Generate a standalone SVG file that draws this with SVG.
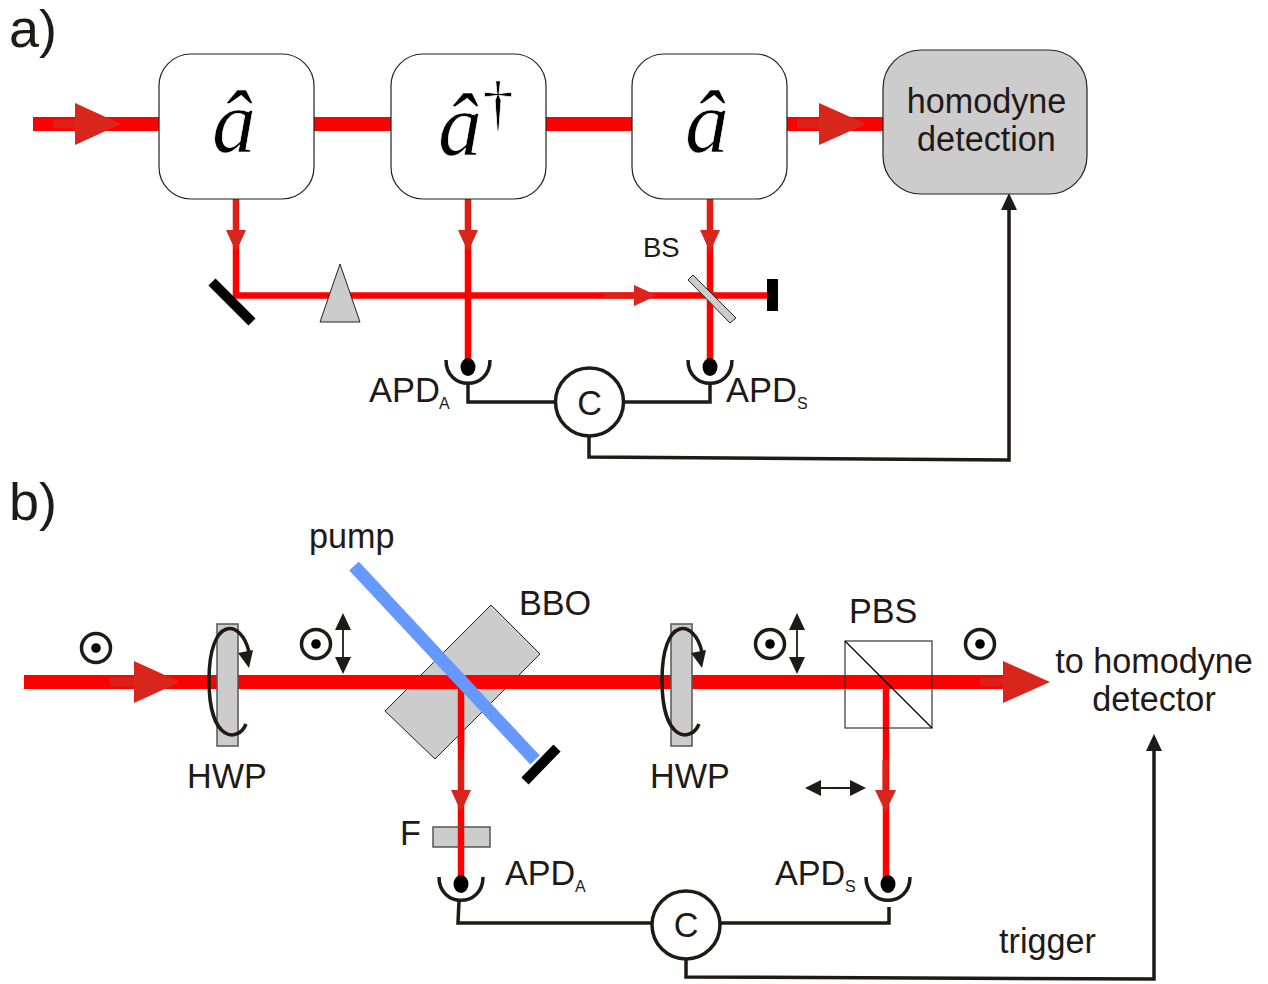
<svg xmlns="http://www.w3.org/2000/svg" width="1268" height="984" viewBox="0 0 1268 984">
<style>
text{font-family:"Liberation Sans",Arial,sans-serif;fill:#1f1a17;font-size:34.200px}
.m{font-family:"Liberation Serif","Times New Roman",serif;font-style:italic;font-size:88px;fill:#000;text-anchor:middle;stroke:#fff;stroke-width:.7}
.big{font-size:51px}.sub{font-size:16px}.mid{text-anchor:middle}
.beam{stroke:#f00;fill:none}.b14{stroke-width:14}.b6{stroke-width:6.5}
.ah{fill:#d9261c}.st{stroke:#dc2018;fill:none}
.w{stroke:#1f1a17;stroke-width:3.5;fill:none}
.box{fill:#fff;stroke:#222;stroke-width:1.2}
.g{fill:#ccc;stroke:#222;stroke-width:1}
.gw{fill:#ccc;stroke:#555;stroke-width:1.5}
.k{fill:#1f1a17}
.blk{stroke:#000;stroke-width:10;fill:none}
.cir{fill:#fff;stroke:#1f1a17;stroke-width:3.5}
.pol{fill:#fff;stroke:#1f1a17;stroke-width:3.5}
</style>
<defs>
<g id="cup"><path class="w" d="M-22 -7C-22 24 22 24 22 -7"/><ellipse cx="0" cy="0" rx="7.5" ry="9" fill="#000"/></g>
<g id="dot"><circle class="pol" r="14.5"/><circle r="4.8" fill="#000"/></g>
<g id="vdbl"><path class="k" d="M0 0L8 17H-8ZM0 61L8 44H-8Z"/><path d="M0 10V51" stroke="#1f1a17" stroke-width="1.8"/></g>
<g id="rot"><path class="w" d="M19 44C12 62 -18 64 -18 0C-18 -64 14 -62 22 -28"/><path class="k" d="M11 -27L26 -30L22 -12Z"/></g>
</defs>

<g id="connectors">
<path class="beam b14" d="M33 124H159M314 124H391M546 124H632M787 124H883"/>
<path class="beam b6" d="M236 199V295.500H772M468 199V367M710 199V367"/>
<path class="st" stroke-width="9" d="M53 124H80M797 124H825"/>
<path class="ah" d="M75 103L121 124L75 145ZM819 103L866 124L819 145Z"/>
<path class="st" stroke-width="6" d="M236 199V232M468 199V232M710 199V232M604 295.500H640"/>
<path class="ah" d="M226 230H246L236 252ZM458 230H478L468 252ZM700 230H720L710 252ZM634 285V306L657 295.500Z"/>
<path class="w" d="M468 384V402H555M625 402H710V384M589 436V457L1009 460V205"/>
<path class="k" d="M1009 193L1017 210H1001Z"/>

<path id="beam-b" class="beam b14" d="M24 682H1010"/>
<path class="beam b6" d="M461 682V880M886 682V880"/>
<path class="st" stroke-width="9" d="M110 682H140M980 682H1010"/>
<path class="ah" d="M134 661L180 682L134 703ZM1003 661L1050 682L1003 703Z"/>
<path class="st" stroke-width="6" d="M461 760V795M885.500 760V795"/>
<path class="ah" d="M451 790H471L461 812ZM875 790H896L885.500 812Z"/>
<path class="w" d="M459 901L458 923H652M720 923H889V907M686 959V977L1154 979V750"/>
<path class="k" d="M1154 734L1162 751H1146Z"/>
</g>

<text class="big" x="9" y="47" textLength="48" lengthAdjust="spacingAndGlyphs">a)</text>
<g id="op1"><rect class="box" x="159" y="54" width="155" height="145" rx="32"/><text class="m" x="234" y="152">â</text></g>
<g id="op2"><rect class="box" x="391" y="54" width="155" height="145" rx="32"/><text class="m" x="460" y="155">â</text><text class="m" x="498" y="124" style="font-style:normal;font-size:62px">†</text></g>
<g id="op3"><rect class="box" x="632" y="54" width="155" height="145" rx="32"/><text class="m" x="707" y="152">â</text></g>
<g id="homodyne"><rect x="883" y="50" width="204" height="144" rx="38" fill="#ccc" stroke="#222" stroke-width="1.2"/><text class="mid" x="986.500" y="113">homodyne</text><text class="mid" x="986.500" y="151">detection</text></g>
<g id="mirror-a"><path class="blk" d="M212 282L252 322"/></g>
<g id="prism"><path class="g" d="M340 264L360 322H320Z"/></g>
<g id="bs"><path class="g" d="M693 275L736 318L730 323L688 280Z"/><text x="643" y="257" style="font-size:27.500px">BS</text></g>
<g id="stop-a"><rect x="767" y="279" width="11" height="32" fill="#000"/></g>
<g id="apda-a"><use href="#cup" x="468" y="367"/><text x="369" y="402" style="font-size:34.500px">APD</text><text class="sub" x="439" y="409">A</text></g>
<g id="apds-a"><use href="#cup" x="710" y="367"/><text x="726" y="402" style="font-size:34.500px">APD</text><text class="sub" x="797" y="409">S</text></g>
<g id="c-a"><circle class="cir" cx="589.500" cy="402" r="34"/><text class="mid" x="589.500" y="415">C</text></g>

<text class="big" x="9" y="520" textLength="48" lengthAdjust="spacingAndGlyphs">b)</text>
<g id="dot1"><use href="#dot" x="96" y="648"/></g>
<g id="hwp1"><rect class="gw" x="217" y="624" width="21" height="122"/><use href="#rot" x="227" y="680"/><text x="187" y="788">HWP</text></g>
<g id="pol1"><use href="#dot" x="316" y="644"/><use href="#vdbl" x="343" y="613"/></g>
<g id="bbo"><path class="g" d="M491 605L540 654L435 759L385 711Z"/><text x="519" y="615">BBO</text></g>
<path id="beam-over-bbo" class="beam b14" d="M392 682H530"/>
<path id="beam-down" class="beam b6" d="M461 682V745"/>
<g id="pump"><path d="M354 566L535 760" stroke="#69f" stroke-width="13" fill="none"/><text x="309" y="548">pump</text></g>
<g id="stop-b"><path class="blk" d="M525 781L557 748"/></g>
<g id="hwp2"><rect class="gw" x="671" y="624" width="21" height="122"/><use href="#rot" x="680" y="680"/><text x="650" y="788">HWP</text></g>
<g id="pol2"><use href="#dot" x="770" y="644"/><use href="#vdbl" x="797" y="613"/></g>
<g id="pbs"><rect x="845" y="641" width="87" height="87" fill="none" stroke="#333" stroke-width="1.2"/><path d="M845 641L932 728" stroke="#000" stroke-width="1.2"/><text x="849" y="623">PBS</text></g>
<g id="dot3"><use href="#dot" x="980" y="644"/></g>
<g id="pol3"><path class="k" d="M805 788L821 780V796ZM866 788L850 780V796Z"/><path d="M815 788H856" stroke="#1f1a17" stroke-width="1.8"/></g>
<g id="filter"><rect class="gw" x="433" y="827" width="57" height="20"/><path class="beam b6" d="M461 827V847"/><text x="400" y="845">F</text></g>
<g id="apda-b"><use href="#cup" x="461" y="884"/><text x="505" y="885">APD</text><text class="sub" x="575" y="892">A</text></g>
<g id="apds-b"><use href="#cup" x="888" y="884"/><text x="775" y="885">APD</text><text class="sub" x="845" y="892">S</text></g>
<g id="c-b"><circle class="cir" cx="686" cy="925" r="34"/><text class="mid" x="686" y="937">C</text></g>
<g id="detector"><text class="mid" x="1154" y="673">to homodyne</text><text class="mid" x="1154" y="711">detector</text></g>
<text x="999" y="953">trigger</text>
</svg>
